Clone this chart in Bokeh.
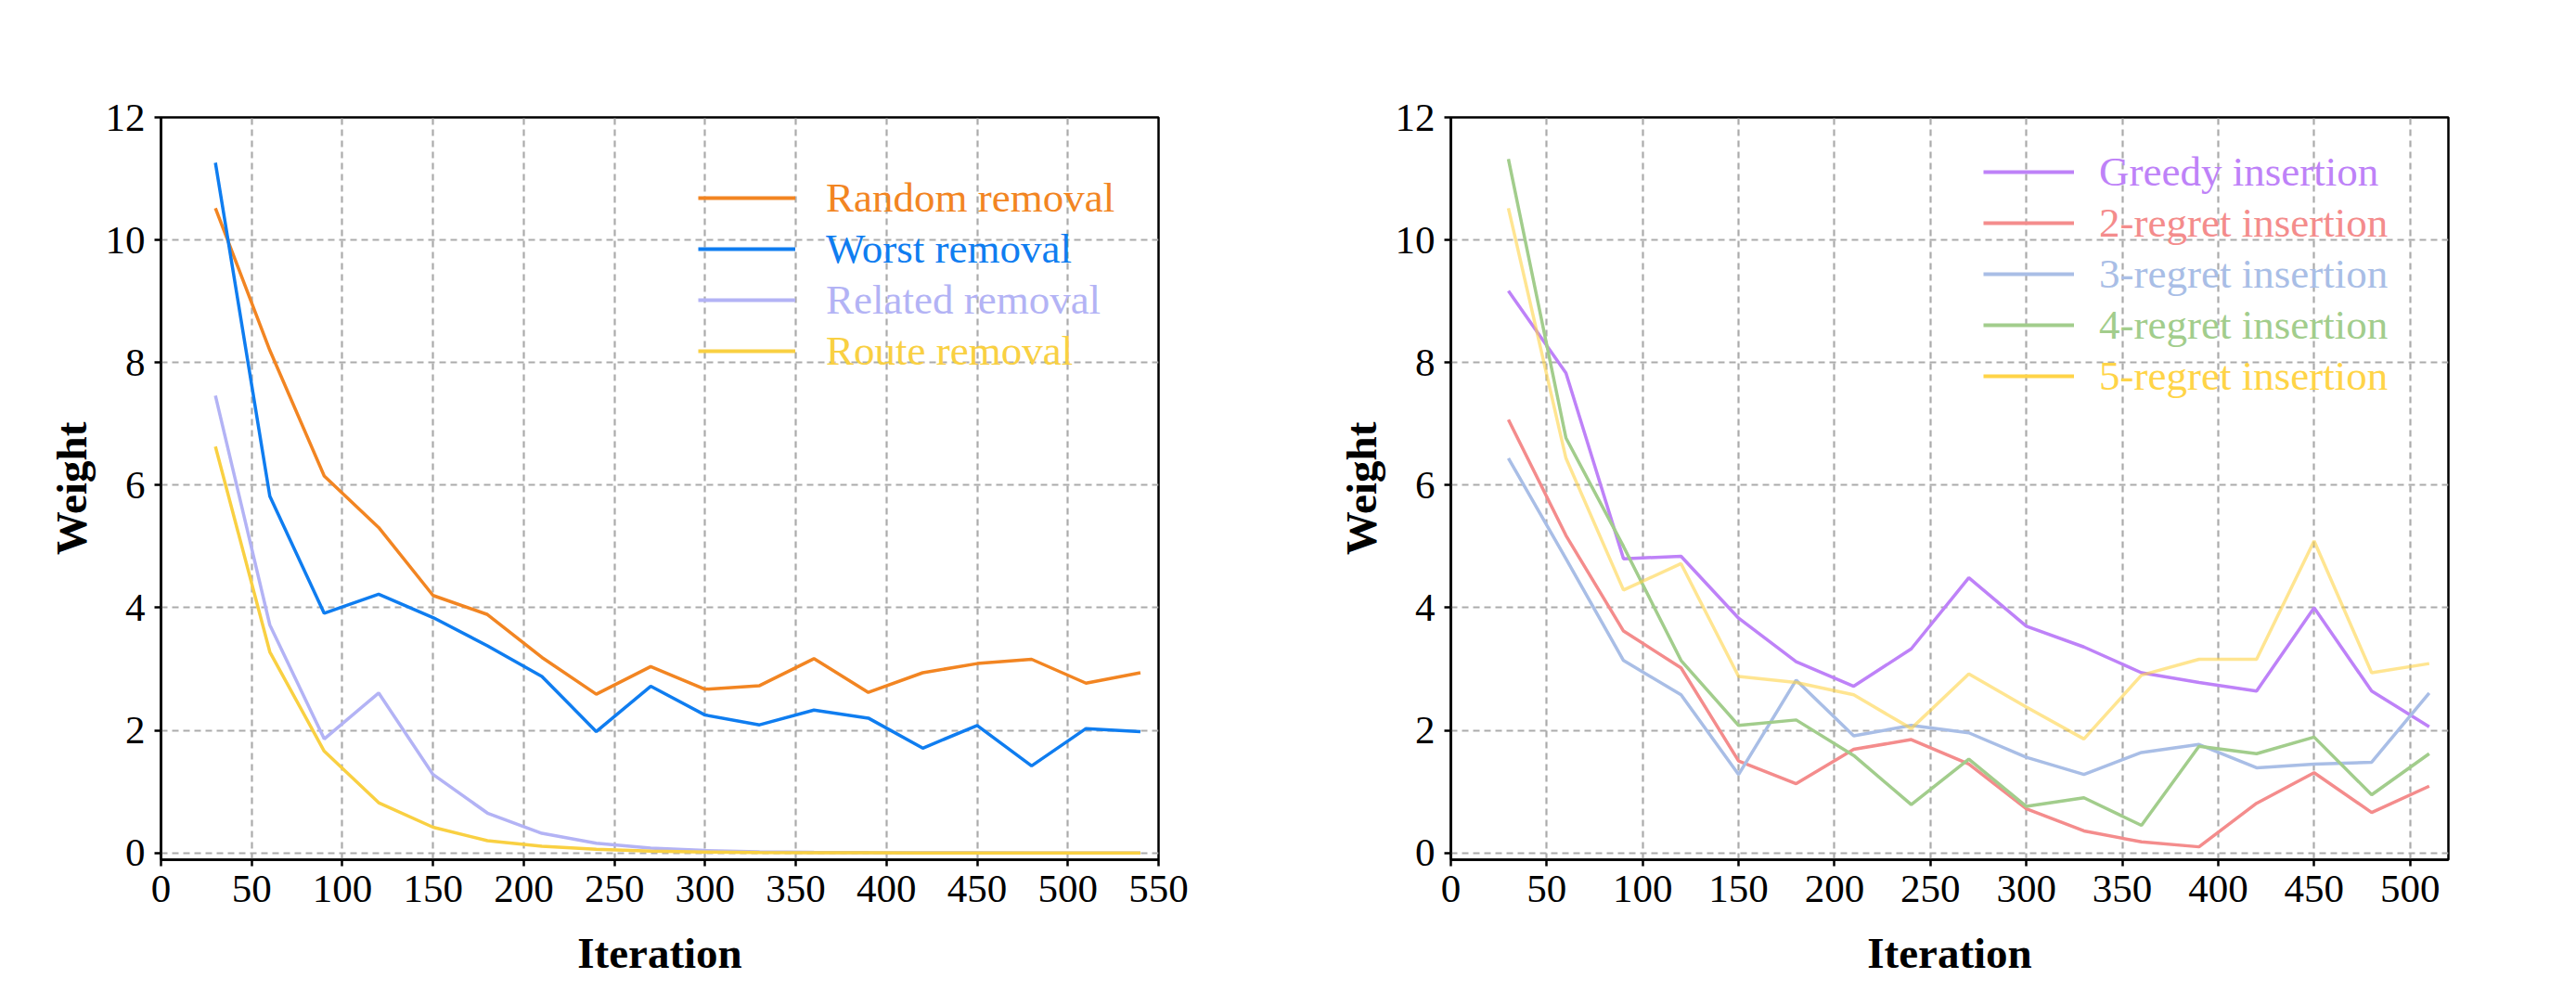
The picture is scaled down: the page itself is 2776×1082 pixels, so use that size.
import numpy as np
from bokeh.plotting import figure
from bokeh.layouts import row
from bokeh.models import Legend, LegendItem, Range1d, FixedTicker
from bokeh.embed import file_html
from bokeh.resources import INLINE

# ---------------- data ----------------
iter_left = [30, 60, 90, 120, 150, 180, 210, 240, 270, 300, 330, 360, 390, 420, 450, 480, 510, 540]
random_removal = [10.52, 8.2, 6.15, 5.31, 4.2, 3.89, 3.19, 2.59, 3.04, 2.67, 2.73, 3.17, 2.62, 2.94, 3.09, 3.16, 2.77, 2.94]
worst_removal = [11.26, 5.82, 3.91, 4.22, 3.84, 3.38, 2.88, 1.98, 2.72, 2.25, 2.09, 2.33, 2.2, 1.71, 2.08, 1.42, 2.03, 1.98]
related_removal = [7.46, 3.72, 1.86, 2.61, 1.28, 0.65, 0.32, 0.16, 0.08, 0.04, 0.02, 0.01, 0.006, 0.004, 0.002, 0.001, 0.001, 0.0]
route_removal = [6.63, 3.28, 1.66, 0.82, 0.42, 0.2, 0.11, 0.06, 0.03, 0.015, 0.008, 0.004, 0.002, 0.001, 0.001, 0.0, 0.0, 0.0]

iter_right = [30, 60, 90, 120, 150, 180, 210, 240, 270, 300, 330, 360, 390, 420, 450, 480, 510]
greedy_insertion = [9.17, 7.83, 4.8, 4.84, 3.83, 3.12, 2.72, 3.33, 4.49, 3.70, 3.36, 2.94, 2.78, 2.64, 4.0, 2.64, 2.06]
regret2_insertion = [7.07, 5.18, 3.62, 3.02, 1.5, 1.13, 1.69, 1.85, 1.45, 0.72, 0.36, 0.18, 0.1, 0.81, 1.31, 0.66, 1.09]
regret3_insertion = [6.44, 4.8, 3.14, 2.58, 1.28, 2.82, 1.91, 2.08, 1.96, 1.56, 1.28, 1.64, 1.77, 1.39, 1.45, 1.48, 2.61]
regret4_insertion = [11.32, 6.77, 5.0, 3.14, 2.08, 2.17, 1.59, 0.79, 1.53, 0.76, 0.9, 0.45, 1.74, 1.62, 1.89, 0.95, 1.62]
regret5_insertion = [10.52, 6.44, 4.29, 4.72, 2.88, 2.78, 2.58, 2.03, 2.92, 2.38, 1.86, 2.9, 3.16, 3.16, 5.09, 2.94, 3.09]

left_labels = ["Random removal", "Worst removal", "Related removal", "Route removal"]
left_colors = ["#F28522", "#0F7DF0", "#B3B3F5", "#F9D042"]
right_labels = ["Greedy insertion", "2-regret insertion", "3-regret insertion", "4-regret insertion", "5-regret insertion"]
right_colors = ["#BE82F8", "#F48C8C", "#A9BEE6", "#A2CD8C", "#FFD447"]
right_alphas = [1.0, 1.0, 1.0, 1.0, 0.6]

x_ticks_left = list(range(0, 551, 50))
x_ticks_right = list(range(0, 501, 50))
y_ticks = list(range(0, 13, 2))

FONT = "Liberation Serif"
TOP = 126
FRAME_H = 800
FRAME_W = 1075
FIG_H = 1074


def make_fig(width, border_left, border_right, x_end, x_ticks):
    p = figure(width=width, height=FIG_H, output_backend="svg", toolbar_location=None,
               x_range=Range1d(0, x_end), y_range=Range1d(-0.11, 12),
               min_border_left=border_left, min_border_right=border_right,
               min_border_top=TOP, min_border_bottom=FIG_H - TOP - FRAME_H)
    p.background_fill_color = "white"
    p.border_fill_color = "white"
    p.outline_line_color = "black"
    p.outline_line_width = 2.5
    p.outline_line_alpha = 1
    p.xaxis.ticker = FixedTicker(ticks=x_ticks)
    p.yaxis.ticker = FixedTicker(ticks=y_ticks)
    for ax in (p.xaxis[0], p.yaxis[0]):
        ax.axis_line_width = 2.5
        ax.axis_line_color = "black"
        ax.major_tick_line_width = 2.5
        ax.major_tick_line_color = "black"
        ax.major_tick_out = 7
        ax.major_tick_in = 0
        ax.minor_tick_out = 0
        ax.minor_tick_in = 0
        ax.major_label_text_font = FONT
        ax.major_label_text_font_size = "43px"
        ax.major_label_text_color = "black"
        ax.axis_label_text_font = FONT
        ax.axis_label_text_font_size = "47px"
        ax.axis_label_text_font_style = "bold"
        ax.axis_label_text_color = "black"
    p.xaxis.axis_label = "Iteration"
    p.yaxis.axis_label = "Weight"
    p.xaxis.major_label_standoff = 10
    p.yaxis.major_label_standoff = 10
    p.xaxis.axis_label_standoff = 26
    p.yaxis.axis_label_standoff = 8
    for g in (p.xgrid[0], p.ygrid[0]):
        g.grid_line_color = "#ABABAB"
        g.grid_line_width = 2.2
        g.grid_line_dash = "7 5"
    return p


def add_legends(p, labels, colors, x0, centers, glyph_w, standoff):
    bottom = TOP + FRAME_H
    for lab, col, yc in zip(labels, colors, centers):
        dummy = p.line(x=[np.nan], y=[np.nan], line_color=col, line_width=4.2, line_alpha=1.0)
        leg = Legend(items=[LegendItem(label=lab, renderers=[dummy])],
                     location=(x0, bottom - yc - 30))
        leg.padding = 0
        leg.margin = 0
        leg.spacing = 0
        leg.glyph_width = glyph_w
        leg.glyph_height = 60
        leg.label_height = 60
        leg.label_standoff = standoff
        leg.background_fill_alpha = 0
        leg.border_line_alpha = 0
        leg.label_text_font = FONT
        leg.label_text_font_size = "45px"
        leg.label_text_color = col
        p.add_layout(leg)


# ---------------- left chart ----------------
W1 = 1385
p1 = make_fig(W1, 173, W1 - 173 - FRAME_W, 550, x_ticks_left)
for ys, col in zip([random_removal, worst_removal, related_removal, route_removal], left_colors):
    p1.line(iter_left, ys, line_color=col, line_width=3.5)
add_legends(p1, left_labels, left_colors, 579, [213, 268, 323, 378], 105, 33)

# ---------------- right chart ----------------
W2 = 1385
L2 = 1563 - W1
p2 = make_fig(W2, L2, W2 - L2 - FRAME_W, 520, x_ticks_right)
for ys, col, a in zip([greedy_insertion, regret2_insertion, regret3_insertion, regret4_insertion, regret5_insertion],
                      right_colors, right_alphas):
    p2.line(iter_right, ys, line_color=col, line_width=3.5, line_alpha=a)
add_legends(p2, right_labels, right_colors, 574, [185, 240, 295, 350, 405], 98, 27)

layout = row(p1, p2)
open("out.html", "w").write(file_html(layout, INLINE))
